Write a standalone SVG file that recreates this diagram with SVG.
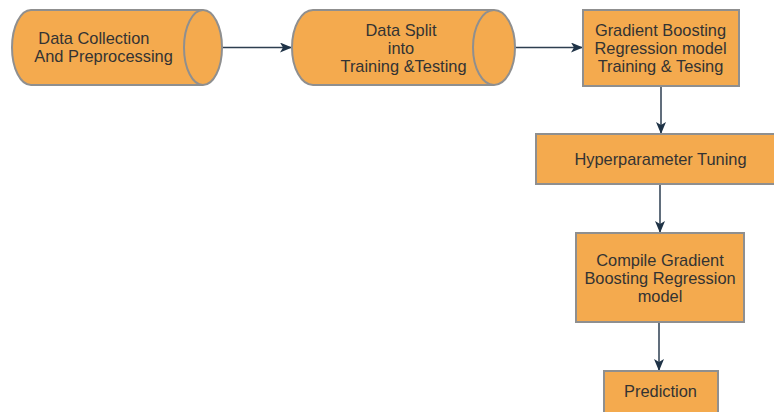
<svg xmlns="http://www.w3.org/2000/svg" width="774" height="412" viewBox="0 0 774 412">
<defs>
<style>
.shape{fill:#F4AA4E;stroke:#8f8f8f;stroke-width:2}
.inner{fill:none;stroke:#8f8f8f;stroke-width:2}
.lbl{font-family:"Liberation Sans",Arial,sans-serif;font-size:16.4px;fill:#333333}
.c{text-anchor:middle}
.edge{fill:none;stroke:#2d3e50;stroke-width:1.5}
</style>
<marker id="ah" viewBox="0 0 12 10" refX="12" refY="5" markerWidth="12" markerHeight="10" markerUnits="userSpaceOnUse" orient="auto">
<path d="M0,0 L12,5 L0,10 L3,5 Z" fill="#1f3347"/>
</marker>
</defs>
<rect width="774" height="412" fill="#ffffff"/>
<g id="connectors">
<path class="edge" d="M222,47.5 L292,47.5" marker-end="url(#ah)"/>
<path class="edge" d="M515,47.5 L583,47.5" marker-end="url(#ah)"/>
<path class="edge" d="M661,86 L661,134" marker-end="url(#ah)"/>
<path class="edge" d="M660,184 L660,233" marker-end="url(#ah)"/>
<path class="edge" d="M659,322 L659,371" marker-end="url(#ah)"/>
</g>
<g id="node-data-collection">
<path class="shape" d="M31,10 L203,10 A19,37.5 0 0 1 203,85 L31,85 A19,37.5 0 0 1 31,10 Z"/>
<path class="inner" d="M203,10 A19,37.5 0 0 0 203,85"/>
<text class="lbl" x="38.3" y="44">Data Collection</text>
<text class="lbl" x="34.3" y="62">And Preprocessing</text>
</g>
<g id="node-data-split">
<path class="shape" d="M313,10 L494,10 A21,37.5 0 0 1 494,85 L313,85 A21,37.5 0 0 1 313,10 Z"/>
<path class="inner" d="M494,10 A21,37.5 0 0 0 494,85"/>
<text class="lbl c" x="401" y="35.5">Data Split</text>
<text class="lbl c" x="401" y="53.5">into</text>
<text class="lbl c" x="403.5" y="71.5">Training &amp;Testing</text>
</g>
<g id="node-gbr-train">
<rect class="shape" x="583" y="10" width="156" height="76"/>
<text class="lbl c" x="660.5" y="35.5">Gradient Boosting</text>
<text class="lbl c" x="660.5" y="53.5">Regression model</text>
<text class="lbl c" x="660.5" y="71.5">Training &amp; Tesing</text>
</g>
<g id="node-hyper">
<rect class="shape" x="536" y="134" width="250" height="50"/>
<text class="lbl c" x="660.5" y="165">Hyperparameter Tuning</text>
</g>
<g id="node-compile">
<rect class="shape" x="576" y="233" width="168" height="89"/>
<text class="lbl c" x="660" y="266">Compile Gradient</text>
<text class="lbl c" x="660" y="284">Boosting Regression</text>
<text class="lbl c" x="660" y="302">model</text>
</g>
<g id="node-prediction">
<rect class="shape" x="604" y="371" width="114" height="60"/>
<text class="lbl c" x="660.5" y="397">Prediction</text>
</g>
</svg>
